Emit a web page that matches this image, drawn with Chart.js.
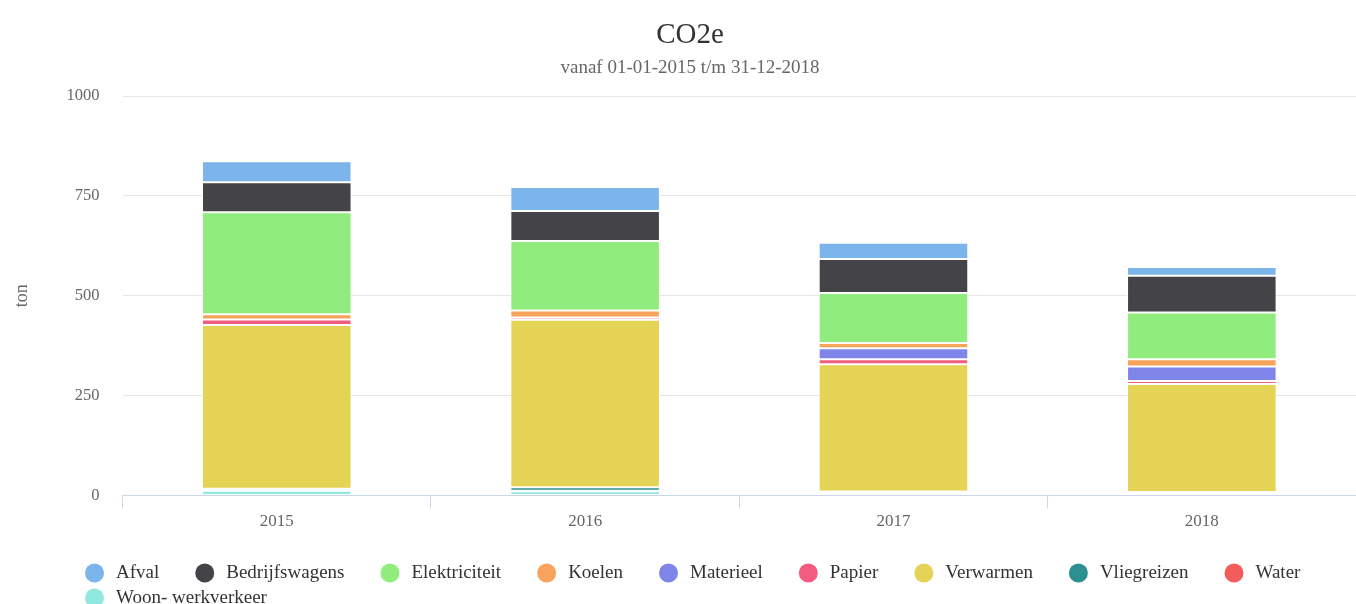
<!DOCTYPE html>
<html>
<head>
<meta charset="utf-8">
<title>CO2e</title>
<script src="https://cdn.jsdelivr.net/npm/chart.js@4.4.1/dist/chart.umd.min.js"></script>
<style>
  html, body { margin: 0; padding: 0; background: #fff; }
  #wrap { position: relative; width: 1356px; height: 604px; }
</style>
</head>
<body>
<div id="wrap"><canvas id="co2Chart"></canvas></div>
<script>
// categories
const years = ['2015', '2016', '2017', '2018'];

// series values (ton), legend order
const afval = [53, 60, 41, 22];
const bedrijfswagens = [75, 75, 85, 92];
const elektriciteit = [255, 174, 125, 117];
const koelen = [13, 17, 13, 18];
const materieel = [0, 0, 28, 36];
const papier = [14, 6, 12, 8];
const verwarmen = [410, 419, 319, 270];
const vliegreizen = [2, 9, 2, 3];
const water = [3, 1, 2, 3];
const woonWerkverkeer = [12, 11, 6, 3];

const seriesNames = ['Afval', 'Bedrijfswagens', 'Elektriciteit', 'Koelen', 'Materieel',
  'Papier', 'Verwarmen', 'Vliegreizen', 'Water', 'Woon- werkverkeer'];
const seriesValues = [afval, bedrijfswagens, elektriciteit, koelen, materieel,
  papier, verwarmen, vliegreizen, water, woonWerkverkeer];

// y axis tick labels
const yTicks = [0, 250, 500, 750, 1000];

const colors = ['#7cb5ec', '#434348', '#90ed7d', '#f7a35c', '#8085e9',
  '#f15c80', '#e4d354', '#2b908f', '#f45b5b', '#91e8e1'];

const FONT = "'Liberation Serif', 'Times New Roman', serif";

// legend in rows, first item on the left of each row (like the original)
const legendRows = {
  id: 'legendRows',
  afterDraw(chart, args, opts) {
    const ctx = chart.ctx;
    ctx.save();
    ctx.font = opts.fontSize + 'px ' + FONT;
    ctx.textBaseline = 'middle';
    ctx.textAlign = 'left';
    let x = opts.left;
    let y = chart.height - opts.bottom;
    const items = chart.data.datasets.slice().reverse();
    items.forEach(ds => {
      const w = opts.marker + opts.gap + ctx.measureText(ds.label).width;
      if (x > opts.left && x + w > chart.width - opts.right) {
        x = opts.left;
        y += opts.lineHeight;
      }
      ctx.fillStyle = ds.backgroundColor;
      ctx.beginPath();
      ctx.arc(x + opts.marker / 2, y, opts.marker / 2, 0, Math.PI * 2);
      ctx.fill();
      ctx.fillStyle = '#333333';
      ctx.fillText(ds.label, x + opts.marker + opts.gap, y);
      x += w + opts.spacing;
    });
    ctx.restore();
  }
};

// first series goes on top of the stack, so build datasets bottom-up
const datasets = seriesNames.map((name, i) => ({
  label: name,
  data: seriesValues[i],
  backgroundColor: colors[i]
})).reverse();

new Chart(document.getElementById('co2Chart'), {
  type: 'bar',
  data: {
    labels: years,
    datasets: datasets
  },
  options: {
    responsive: true,
    maintainAspectRatio: false,
    animation: false,
    layout: {
      // extra left padding moves the centred title to where the original had it
      padding: { left: 24, right: 0, top: 0, bottom: 69 }
    },
    datasets: {
      bar: {
        categoryPercentage: 1,
        barPercentage: 0.485,
        borderColor: '#ffffff',
        borderWidth: 1,
        borderSkipped: false
      }
    },
    plugins: {
      legend: { display: false },
      tooltip: { enabled: false },
      title: {
        display: true,
        text: 'CO2e',
        color: '#333333',
        font: { family: FONT, size: 29, weight: 'normal' },
        padding: { top: 18, bottom: 0 }
      },
      subtitle: {
        display: true,
        text: 'vanaf 01-01-2015 t/m 31-12-2018',
        color: '#666666',
        font: { family: FONT, size: 19 },
        padding: { top: 4, bottom: 16.4 }
      },
      legendRows: {
        left: 85,
        right: 20,
        bottom: 31,
        lineHeight: 25,
        marker: 19,
        gap: 12,
        spacing: 36,
        fontSize: 19
      }
    },
    scales: {
      x: {
        stacked: true,
        grid: {
          offset: true,
          drawOnChartArea: false,
          color: '#ccd6eb',
          tickLength: 13
        },
        border: { color: '#ccd6eb' },
        ticks: {
          color: '#666666',
          font: { family: FONT, size: 17 },
          padding: 3
        }
      },
      y: {
        stacked: true,
        min: 0,
        max: 1000,
        afterBuildTicks: axis => {
          axis.ticks = yTicks.map(v => ({ value: v }));
        },
        grid: { color: '#e6e6e6', drawTicks: false },
        border: { display: false },
        ticks: {
          color: '#666666',
          font: { family: FONT, size: 16.5 },
          padding: 23,
          callback: v => String(v)
        },
        title: {
          display: true,
          text: 'ton',
          color: '#666666',
          font: { family: FONT, size: 18 },
          padding: { top: -13, bottom: 11 }
        }
      }
    }
  },
  plugins: [legendRows]
});
</script>
</body>
</html>
